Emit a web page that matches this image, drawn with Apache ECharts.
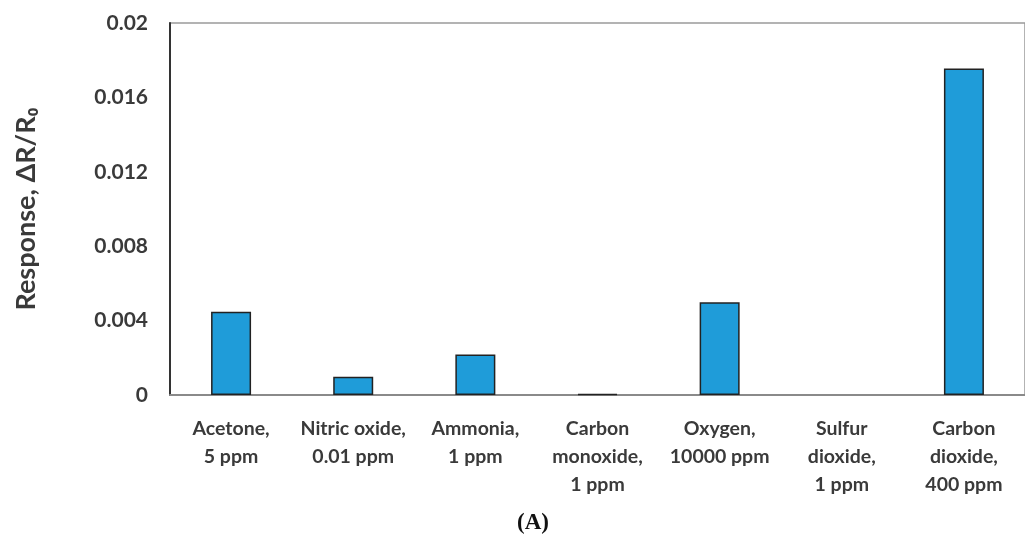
<!DOCTYPE html>
<html>
<head>
<meta charset="utf-8">
<script src="https://cdn.jsdelivr.net/npm/echarts@6/dist/echarts.min.js"></script>
<style>
html,body{margin:0;padding:0;background:#fff;}
#c{width:1025px;height:535px;}
</style>
</head>
<body>
<div id="c"></div>
<script>
const categories = [
  "Acetone,\n5 ppm",
  "Nitric oxide,\n0.01 ppm",
  "Ammonia,\n1 ppm",
  "Carbon\nmonoxide,\n1 ppm",
  "Oxygen,\n10000 ppm",
  "Sulfur\ndioxide,\n1 ppm",
  "Carbon\ndioxide,\n400 ppm"
];
const responseValues = [0.00448, 0.00098, 0.00218, 0.00005, 0.00498, 0, 0.01756];
const yTicks = [0, 0.004, 0.008, 0.012, 0.016, 0.02];
const yTitle = "Response, ΔR/R₀";
const panelLabel = "(A)";

const FONT = "Lato, 'Open Sans', sans-serif";
const chart = echarts.init(document.getElementById('c'), null, {renderer: 'canvas'});
chart.setOption({
  animation: false,
  backgroundColor: '#fff',
  grid: {
    left: 170, top: 23, width: 869, height: 372,
    show: true, borderColor: '#9a9a9a', borderWidth: 1.5, containLabel: false
  },
  title: {
    text: panelLabel,
    left: 528, top: 507, textAlign: 'center',
    textStyle: {fontFamily: "'Liberation Serif', 'DejaVu Serif', serif", fontWeight: 'bold', fontSize: 23, color: '#111'}
  },
  xAxis: {
    type: 'category',
    data: categories,
    axisLine: {show: true, lineStyle: {color: '#8a8a8a', width: 2}},
    axisTick: {show: false},
    axisLabel: {
      interval: 0, margin: 20, lineHeight: 28,
      fontFamily: FONT, fontWeight: 'bold', fontSize: 19.5, color: '#3a3a3a',
      verticalAlign: 'top'
    }
  },
  yAxis: {
    type: 'value',
    min: 0, max: 0.02, interval: 0.004,
    name: yTitle,
    nameLocation: 'middle',
    nameGap: 130,
    nameRotate: 90,
    nameTextStyle: {fontFamily: FONT, fontWeight: 'bold', fontSize: 27, color: '#3a3a3a'},
    axisLine: {show: true, lineStyle: {color: '#333', width: 2}},
    axisTick: {show: false},
    splitLine: {show: false},
    axisLabel: {
      margin: 22,
      fontFamily: FONT, fontWeight: 'bold', fontSize: 21, color: '#3a3a3a',
      formatter: function (v) {
        const m = yTicks.find(t => Math.abs(t - v) < 1e-9);
        return m === undefined ? '' : (m === 0 ? '0' : String(m));
      }
    }
  },
  series: [{
    type: 'bar',
    data: responseValues.map(v => v === 0 ? {value: v, itemStyle: {borderWidth: 0}} : v),
    barWidth: 40,
    itemStyle: {color: '#1f9cd9', borderColor: '#222', borderWidth: 1.5}
  }]
});
</script>
</body>
</html>
